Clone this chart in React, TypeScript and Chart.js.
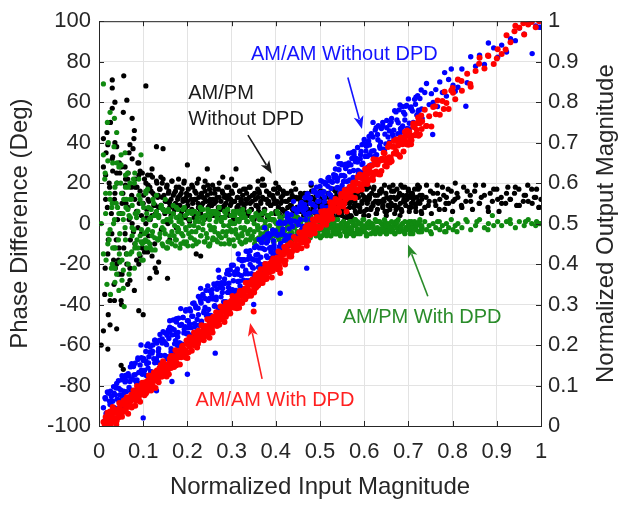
import React, { useEffect, useRef } from "react";
import { Chart, registerables } from "chart.js";

Chart.register(...registerables);

// ---------- Tick values and labels ----------
const xTicks = [0, 0.1, 0.2, 0.3, 0.4, 0.5, 0.6, 0.7, 0.8, 0.9, 1];
const xTickLabels = ["0", "0.1", "0.2", "0.3", "0.4", "0.5", "0.6", "0.7", "0.8", "0.9", "1"];
const phaseTicks = [-100, -80, -60, -40, -20, 0, 20, 40, 60, 80, 100];
const phaseTickLabels = ["-100", "-80", "-60", "-40", "-20", "0", "20", "40", "60", "80", "100"];
const magTicks = [0, 0.1, 0.2, 0.3, 0.4, 0.5, 0.6, 0.7, 0.8, 0.9, 1];
const magTickLabels = ["0", "0.1", "0.2", "0.3", "0.4", "0.5", "0.6", "0.7", "0.8", "0.9", "1"];

// ---------- Sample set 1: input magnitudes (x) ----------
const inputMag = [
  0.010, 0.013, 0.015, 0.018, 0.021, 0.023, 0.025, 0.028, 0.031, 0.033,
  0.036, 0.037, 0.040, 0.042, 0.045, 0.047, 0.051, 0.052, 0.055, 0.059,
  0.060, 0.062, 0.066, 0.068, 0.070, 0.074, 0.075, 0.079, 0.081, 0.082,
  0.085, 0.088, 0.090, 0.093, 0.096, 0.098, 0.100, 0.103, 0.106, 0.108,
  0.111, 0.112, 0.115, 0.117, 0.120, 0.122, 0.126, 0.127, 0.130, 0.134,
  0.135, 0.137, 0.141, 0.143, 0.145, 0.149, 0.150, 0.154, 0.156, 0.157,
  0.160, 0.163, 0.165, 0.168, 0.171, 0.173, 0.175, 0.178, 0.181, 0.183,
  0.186, 0.187, 0.190, 0.192, 0.195, 0.197, 0.201, 0.202, 0.205, 0.209,
  0.210, 0.212, 0.216, 0.218, 0.220, 0.224, 0.225, 0.229, 0.231, 0.232,
  0.235, 0.238, 0.240, 0.243, 0.246, 0.248, 0.250, 0.253, 0.256, 0.258,
  0.261, 0.262, 0.265, 0.267, 0.270, 0.272, 0.276, 0.277, 0.280, 0.284,
  0.285, 0.287, 0.291, 0.293, 0.295, 0.299, 0.300, 0.304, 0.306, 0.307,
  0.310, 0.313, 0.315, 0.318, 0.321, 0.323, 0.325, 0.328, 0.331, 0.333,
  0.336, 0.337, 0.340, 0.342, 0.345, 0.347, 0.351, 0.352, 0.355, 0.359,
  0.360, 0.362, 0.366, 0.368, 0.370, 0.374, 0.375, 0.379, 0.381, 0.382,
  0.385, 0.388, 0.390, 0.393, 0.396, 0.398, 0.400, 0.403, 0.406, 0.408,
  0.411, 0.412, 0.415, 0.417, 0.420, 0.422, 0.426, 0.427, 0.430, 0.434,
  0.435, 0.437, 0.441, 0.443, 0.445, 0.449, 0.450, 0.454, 0.456, 0.457,
  0.460, 0.463, 0.465, 0.468, 0.471, 0.473, 0.475, 0.478, 0.481, 0.483,
  0.486, 0.487, 0.490, 0.492, 0.495, 0.497, 0.501, 0.502, 0.505, 0.509,
  0.510, 0.512, 0.516, 0.518, 0.520, 0.524, 0.525, 0.529, 0.531, 0.532,
  0.535, 0.538, 0.540, 0.543, 0.546, 0.548, 0.550, 0.553, 0.556, 0.558,
  0.561, 0.562, 0.565, 0.567, 0.570, 0.572, 0.576, 0.577, 0.580, 0.584,
  0.585, 0.587, 0.591, 0.593, 0.595, 0.599, 0.600, 0.604, 0.606, 0.607,
  0.612, 0.616, 0.621, 0.627, 0.631, 0.636, 0.642, 0.646, 0.651, 0.657,
  0.661, 0.667, 0.672, 0.676, 0.681, 0.687, 0.692, 0.696, 0.702, 0.706,
  0.711, 0.717, 0.722, 0.726, 0.731, 0.737, 0.741, 0.747, 0.752, 0.756,
  0.762, 0.766, 0.771, 0.777, 0.782, 0.786, 0.791, 0.797, 0.801, 0.806,
  0.812, 0.821, 0.833, 0.841, 0.852, 0.861, 0.872, 0.881, 0.893, 0.902,
  0.911, 0.922, 0.931, 0.942, 0.951, 0.962, 0.971, 0.979, 0.988, 0.996,
];

const amamWithDpd = [
  0.010, 0.003, 0.022, 0.012, 0.024, 0.010, 0.036, 0.024, 0.015, 0.035,
  0.020, 0.033, 0.013, 0.034, 0.033, 0.046, 0.031, 0.056, 0.038, 0.036,
  0.056, 0.049, 0.067, 0.048, 0.061, 0.046, 0.069, 0.077, 0.064, 0.084,
  0.063, 0.079, 0.086, 0.078, 0.101, 0.080, 0.089, 0.103, 0.080, 0.102,
  0.113, 0.093, 0.108, 0.116, 0.108, 0.099, 0.124, 0.112, 0.134, 0.125,
  0.120, 0.143, 0.122, 0.138, 0.146, 0.139, 0.127, 0.152, 0.149, 0.140,
  0.157, 0.143, 0.166, 0.173, 0.159, 0.171, 0.150, 0.171, 0.184, 0.172,
  0.170, 0.183, 0.199, 0.179, 0.188, 0.179, 0.202, 0.207, 0.196, 0.211,
  0.218, 0.202, 0.202, 0.214, 0.225, 0.203, 0.224, 0.222, 0.232, 0.214,
  0.231, 0.243, 0.222, 0.246, 0.235, 0.247, 0.258, 0.239, 0.251, 0.269,
  0.250, 0.264, 0.263, 0.247, 0.278, 0.265, 0.281, 0.263, 0.291, 0.283,
  0.292, 0.270, 0.295, 0.291, 0.284, 0.309, 0.295, 0.306, 0.292, 0.312,
  0.304, 0.322, 0.307, 0.330, 0.322, 0.309, 0.323, 0.335, 0.313, 0.337,
  0.342, 0.334, 0.351, 0.332, 0.349, 0.362, 0.345, 0.338, 0.358, 0.368,
  0.347, 0.370, 0.366, 0.374, 0.360, 0.376, 0.389, 0.372, 0.392, 0.381,
  0.395, 0.384, 0.406, 0.383, 0.398, 0.406, 0.393, 0.416, 0.404, 0.395,
  0.411, 0.427, 0.410, 0.423, 0.432, 0.409, 0.434, 0.429, 0.423, 0.452,
  0.449, 0.432, 0.447, 0.445, 0.462, 0.446, 0.441, 0.465, 0.464, 0.456,
  0.454, 0.471, 0.481, 0.458, 0.482, 0.479, 0.474, 0.497, 0.477, 0.488,
  0.497, 0.481, 0.492, 0.507, 0.493, 0.515, 0.507, 0.491, 0.519, 0.512,
  0.529, 0.517, 0.530, 0.512, 0.530, 0.521, 0.542, 0.538, 0.531, 0.553,
  0.537, 0.555, 0.532, 0.557, 0.553, 0.567, 0.553, 0.550, 0.579, 0.567,
  0.577, 0.563, 0.578, 0.586, 0.565, 0.581, 0.593, 0.583, 0.602, 0.583,
  0.582, 0.599, 0.614, 0.597, 0.612, 0.598, 0.611, 0.626, 0.608, 0.622,
  0.642, 0.611, 0.659, 0.629, 0.653, 0.621, 0.657, 0.674, 0.641, 0.697,
  0.655, 0.704, 0.679, 0.702, 0.665, 0.708, 0.726, 0.696, 0.717, 0.696,
  0.740, 0.721, 0.762, 0.720, 0.753, 0.781, 0.741, 0.765, 0.740, 0.788,
  0.770, 0.804, 0.769, 0.803, 0.826, 0.798, 0.783, 0.829, 0.823, 0.807,
  0.856, 0.828, 0.870, 0.838, 0.877, 0.910, 0.883, 0.914, 0.894, 0.931,
  0.919, 0.965, 0.948, 0.989, 0.984, 0.967, 0.992, 0.998, 0.985, 1.000,
];

const amamWithoutDpd = [
  0.045, 0.013, 0.067, 0.033, 0.081, 0.013, 0.053, 0.073, 0.039, 0.097,
  0.041, 0.077, 0.105, 0.032, 0.093, 0.077, 0.066, 0.124, 0.077, 0.117,
  0.125, 0.085, 0.066, 0.123, 0.110, 0.154, 0.088, 0.126, 0.113, 0.155,
  0.107, 0.168, 0.132, 0.105, 0.169, 0.128, 0.162, 0.101, 0.161, 0.154,
  0.203, 0.156, 0.183, 0.134, 0.180, 0.200, 0.156, 0.212, 0.166, 0.184,
  0.175, 0.212, 0.151, 0.205, 0.233, 0.174, 0.205, 0.224, 0.171, 0.237,
  0.232, 0.183, 0.225, 0.262, 0.203, 0.226, 0.257, 0.220, 0.205, 0.249,
  0.198, 0.251, 0.268, 0.230, 0.245, 0.287, 0.229, 0.260, 0.289, 0.243,
  0.271, 0.303, 0.253, 0.297, 0.233, 0.291, 0.275, 0.314, 0.304, 0.259,
  0.325, 0.285, 0.315, 0.273, 0.346, 0.288, 0.315, 0.273, 0.337, 0.315,
  0.296, 0.347, 0.318, 0.338, 0.293, 0.367, 0.319, 0.354, 0.340, 0.299,
  0.352, 0.307, 0.384, 0.342, 0.374, 0.336, 0.397, 0.359, 0.333, 0.380,
  0.335, 0.388, 0.375, 0.358, 0.411, 0.340, 0.395, 0.411, 0.376, 0.432,
  0.431, 0.376, 0.421, 0.399, 0.376, 0.412, 0.366, 0.441, 0.422, 0.410,
  0.407, 0.461, 0.399, 0.453, 0.439, 0.399, 0.436, 0.420, 0.474, 0.457,
  0.468, 0.441, 0.415, 0.484, 0.439, 0.475, 0.429, 0.474, 0.501, 0.443,
  0.451, 0.501, 0.480, 0.434, 0.501, 0.471, 0.525, 0.462, 0.487, 0.503,
  0.508, 0.468, 0.536, 0.506, 0.464, 0.534, 0.503, 0.479, 0.535, 0.548,
  0.486, 0.529, 0.547, 0.510, 0.573, 0.523, 0.563, 0.550, 0.501, 0.547,
  0.578, 0.529, 0.542, 0.590, 0.555, 0.529, 0.577, 0.606, 0.543, 0.579,
  0.566, 0.598, 0.540, 0.592, 0.614, 0.570, 0.587, 0.563, 0.621, 0.614,
  0.619, 0.558, 0.612, 0.633, 0.586, 0.648, 0.594, 0.619, 0.584, 0.636,
  0.604, 0.643, 0.674, 0.628, 0.605, 0.661, 0.631, 0.678, 0.653, 0.613,
  0.688, 0.624, 0.660, 0.678, 0.646, 0.698, 0.627, 0.679, 0.697, 0.666,
  0.670, 0.722, 0.665, 0.737, 0.707, 0.686, 0.742, 0.682, 0.737, 0.729,
  0.751, 0.731, 0.776, 0.722, 0.793, 0.741, 0.770, 0.792, 0.734, 0.788,
  0.748, 0.812, 0.777, 0.809, 0.760, 0.824, 0.846, 0.794, 0.821, 0.799,
  0.831, 0.789, 0.850, 0.824, 0.873, 0.815, 0.856, 0.882, 0.842, 0.827,
  0.837, 0.882, 0.848, 0.912, 0.889, 0.916, 0.893, 0.946, 0.934, 0.911,
  0.941, 0.924, 0.957, 0.952, 0.983, 0.968, 0.995, 0.999, 0.988, 0.985,
];

const ampmWithDpd = [
  -15, 22, 5, -30, 40, -8, 12, -22, 30, 0,
  18, -12, -25, 8, 28, -5, 15, -18, 2, 35,
  -8, 12, -20, 4, 20, -14, 9, -3, 25, -10,
  5, -12, 14, -6, -18, 10, 2, -9, 16, -4,
  -3, 8, -10, 3, -6, 12, -1, -13, 6, -8,
  4, -7, 9, -2, -11, 6, -5, 2, -9, 7,
  -6, 3, -10, 5, -1, -8, 8, -4, 1, -12,
  2, -5, 7, -9, 4, -3, -11, 6, -1, -7,
  -4, 6, -8, 1, -10, 5, -2, 8, -6, 3,
  0, -9, 4, -5, 7, -11, 2, -3, 6, -7,
  -2, 5, -8, 3, -5, 8, -10, 1, -4, 6,
  3, -6, 7, -1, -9, 4, -4, 6, -11, 0,
  -5, 2, -7, 5, -2, -10, 7, -3, 3, -8,
  1, -4, 6, -8, 3, -6, 0, -10, 5, -2,
  -3, 4, -9, 2, -6, 6, -1, -8, 4, -5,
  2, -7, 5, -3, -9, 1, -5, 6, -2, -8,
  -4, 3, -6, 0, -8, 4, -2, -9, 2, -5,
  1, -5, 4, -7, -1, 3, -8, 0, -4, 2,
  -6, 2, -3, -8, 1, -4, 3, -7, -1, -5,
  0, -4, 2, -6, -2, 3, -7, 1, -3, -5,
  -3, 1, -5, -1, 2, -6, 0, -4, -2, 1,
  -1, -5, 2, -3, -6, 0, -2, 1, -4, -1,
  -4, 0, -2, -5, 1, -3, -6, -1, 2, -3,
  1, -3, -5, 0, -2, 2, -4, -1, -6, 0,
  -2, 0, -4, 1, -3, -5, -1, 2, -3, -1,
  -4, -1, 1, -3, -2, 0, -5, -2, 1, -3,
  -1, -3, 0, -4, -2, 1, -3, -1, -5, 0,
  -2, 1, -3, -1, -4, 0, -2, 2, -3, -1,
  0, -2, 1, -3, -1, 2, -2, 0, -1, 1,
  -1, 1, 0, -2, 1, -1, 2, 0, -1, 0,
];

const ampmWithoutDpd = [
  28, -35, 12, 45, -8, 20, -50, 5, 33, -18,
  15, -22, 38, 2, -12, 25, -40, 10, 55, -5,
  22, -15, 8, 35, -28, 14, 0, 42, -10, 18,
  6, 30, -20, 16, -5, 25, 10, -14, 20, 3,
  12, -6, 18, 24, 4, 15, -10, 9, 21, 14,
  8, 17, -3, 13, 22, 5, 11, 19, 0, 15,
  10, 4, 21, 14, 7, 16, -2, 12, 18, 9,
  15, 6, 11, 20, 3, 13, 9, 17, 1, 12,
  7, 18, 12, 4, 15, 10, 22, 6, 14, 9,
  13, 2, 16, 11, 19, 6, 9, 15, 4, 12,
  10, 17, 5, 13, 8, 20, 11, 3, 15, 9,
  14, 7, 12, 18, 4, 10, 16, 2, 11, 19,
  6, 13, 9, 16, 11, 3, 14, 8, 17, 10,
  12, 5, 18, 10, 7, 14, 2, 15, 9, 13,
  8, 16, 11, 4, 13, 19, 7, 12, 3, 10,
  15, 9, 2, 14, 10, 17, 6, 11, 18, 5,
  10, 13, 7, 16, 4, 11, 15, 8, 1, 12,
  9, 14, 5, 12, 17, 8, 3, 13, 10, 6,
  11, 4, 15, 9, 7, 13, 2, 10, 16, 6,
  8, 12, 5, 14, 3, 10, 16, 7, 11, 4,
  13, 6, 10, 2, 15, 9, 12, 5, 17, 8,
  7, 14, 4, 11, 9, 16, 6, 13, 3, 10,
  12, 5, 15, 8, 11, 3, 14, 9, 6, 17,
  9, 13, 6, 16, 10, 4, 12, 18, 7, 11,
  14, 8, 17, 5, 11, 15, 9, 19, 6, 12,
  10, 16, 7, 13, 4, 18, 11, 14, 8, 15,
  12, 6, 17, 10, 14, 8, 19, 11, 5, 15,
  9, 15, 12, 18, 7, 13, 10, 16, 11, 20,
  13, 8, 16, 11, 19, 10, 14, 6, 17, 12,
  10, 15, 12, 18, 9, 14, 11, 17, 13, 8,
];

// ---------- Sample set 2: input magnitudes (x) ----------
const inputMag2 = [
  0.014, 0.016, 0.019, 0.021, 0.024, 0.026, 0.029, 0.031, 0.034, 0.035,
  0.036, 0.039, 0.041, 0.044, 0.046, 0.049, 0.052, 0.054, 0.056, 0.059,
  0.061, 0.063, 0.066, 0.068, 0.071, 0.073, 0.075, 0.078, 0.081, 0.082,
  0.086, 0.088, 0.091, 0.093, 0.096, 0.098, 0.101, 0.103, 0.106, 0.107,
  0.108, 0.111, 0.113, 0.116, 0.118, 0.121, 0.124, 0.126, 0.128, 0.131,
  0.133, 0.135, 0.138, 0.140, 0.143, 0.145, 0.147, 0.150, 0.153, 0.154,
  0.158, 0.160, 0.163, 0.165, 0.168, 0.170, 0.173, 0.175, 0.178, 0.179,
  0.180, 0.183, 0.185, 0.188, 0.190, 0.193, 0.196, 0.198, 0.200, 0.203,
  0.205, 0.207, 0.210, 0.212, 0.215, 0.217, 0.219, 0.222, 0.225, 0.226,
  0.230, 0.232, 0.235, 0.237, 0.240, 0.242, 0.245, 0.247, 0.250, 0.251,
  0.252, 0.255, 0.257, 0.260, 0.262, 0.265, 0.268, 0.270, 0.272, 0.275,
  0.277, 0.279, 0.282, 0.284, 0.287, 0.289, 0.291, 0.294, 0.297, 0.298,
  0.302, 0.304, 0.307, 0.309, 0.312, 0.314, 0.317, 0.319, 0.322, 0.323,
  0.324, 0.327, 0.329, 0.332, 0.334, 0.337, 0.340, 0.342, 0.344, 0.347,
  0.349, 0.351, 0.354, 0.356, 0.359, 0.361, 0.363, 0.366, 0.369, 0.370,
  0.374, 0.376, 0.379, 0.381, 0.384, 0.386, 0.389, 0.391, 0.394, 0.395,
  0.396, 0.399, 0.401, 0.404, 0.406, 0.409, 0.412, 0.414, 0.416, 0.419,
  0.421, 0.423, 0.426, 0.428, 0.431, 0.433, 0.435, 0.438, 0.441, 0.442,
  0.446, 0.448, 0.451, 0.453, 0.456, 0.458, 0.461, 0.463, 0.466, 0.467,
  0.468, 0.471, 0.473, 0.476, 0.478, 0.481, 0.484, 0.486, 0.488, 0.491,
  0.493, 0.495, 0.498, 0.500, 0.503, 0.505, 0.507, 0.510, 0.513, 0.514,
  0.518, 0.520, 0.523, 0.525, 0.528, 0.530, 0.533, 0.535, 0.538, 0.539,
  0.540, 0.543, 0.545, 0.548, 0.550, 0.553, 0.556, 0.558, 0.560, 0.563,
  0.565, 0.567, 0.570, 0.572, 0.575, 0.577, 0.579, 0.582, 0.585, 0.586,
  0.590, 0.592, 0.595, 0.597, 0.600, 0.602, 0.605, 0.607, 0.610, 0.611,
  0.612, 0.615, 0.617, 0.620, 0.622, 0.625, 0.628, 0.630, 0.632, 0.635,
  0.637, 0.639, 0.642, 0.644, 0.647, 0.649, 0.651, 0.654, 0.657, 0.658,
  0.662, 0.664, 0.667, 0.669, 0.672, 0.674, 0.677, 0.679, 0.682, 0.683,
  0.684, 0.687, 0.689, 0.692, 0.694, 0.697, 0.700, 0.702, 0.704, 0.707,
  0.709, 0.711, 0.714, 0.716, 0.719, 0.721, 0.723, 0.726, 0.729, 0.730,
];

const amamWithDpd2 = [
  0.004, 0.016, 0.033, 0.008, 0.030, 0.003, 0.024, 0.047, 0.014, 0.037,
  0.041, 0.004, 0.034, 0.021, 0.057, 0.033, 0.023, 0.053, 0.063, 0.038,
  0.043, 0.071, 0.030, 0.066, 0.061, 0.077, 0.049, 0.088, 0.067, 0.050,
  0.099, 0.067, 0.092, 0.060, 0.091, 0.107, 0.086, 0.076, 0.109, 0.098,
  0.084, 0.105, 0.125, 0.098, 0.088, 0.121, 0.132, 0.114, 0.094, 0.137,
  0.136, 0.108, 0.129, 0.151, 0.122, 0.160, 0.132, 0.149, 0.122, 0.149,
  0.128, 0.166, 0.173, 0.153, 0.168, 0.146, 0.187, 0.157, 0.176, 0.169,
  0.179, 0.152, 0.188, 0.197, 0.175, 0.188, 0.169, 0.211, 0.205, 0.182,
  0.219, 0.199, 0.186, 0.214, 0.231, 0.199, 0.217, 0.194, 0.235, 0.214,
  0.215, 0.249, 0.236, 0.212, 0.247, 0.233, 0.264, 0.228, 0.245, 0.264,
  0.264, 0.239, 0.231, 0.270, 0.256, 0.281, 0.256, 0.272, 0.250, 0.295,
  0.270, 0.294, 0.287, 0.257, 0.304, 0.276, 0.290, 0.305, 0.278, 0.293,
  0.321, 0.295, 0.318, 0.308, 0.291, 0.319, 0.292, 0.334, 0.329, 0.308,
  0.304, 0.335, 0.323, 0.354, 0.338, 0.321, 0.354, 0.332, 0.322, 0.357,
  0.356, 0.330, 0.373, 0.343, 0.356, 0.378, 0.352, 0.387, 0.372, 0.353,
  0.362, 0.400, 0.363, 0.387, 0.400, 0.380, 0.399, 0.367, 0.414, 0.395,
  0.411, 0.396, 0.404, 0.387, 0.431, 0.390, 0.421, 0.427, 0.407, 0.442,
  0.399, 0.437, 0.446, 0.428, 0.419, 0.451, 0.419, 0.444, 0.467, 0.436,
  0.459, 0.435, 0.446, 0.478, 0.459, 0.439, 0.478, 0.454, 0.475, 0.490,
  0.470, 0.495, 0.457, 0.490, 0.472, 0.491, 0.510, 0.486, 0.476, 0.509,
  0.516, 0.492, 0.515, 0.489, 0.530, 0.508, 0.500, 0.531, 0.520, 0.497,
  0.508, 0.532, 0.553, 0.525, 0.512, 0.548, 0.539, 0.561, 0.536, 0.555,
  0.551, 0.528, 0.542, 0.573, 0.567, 0.542, 0.583, 0.559, 0.581, 0.566,
  0.565, 0.591, 0.580, 0.566, 0.601, 0.589, 0.563, 0.600, 0.615, 0.582,
  0.621, 0.591, 0.584, 0.618, 0.603, 0.635, 0.612, 0.598, 0.627, 0.636,
  0.608, 0.627, 0.643, 0.608, 0.646, 0.627, 0.658, 0.646, 0.622, 0.655,
  0.658, 0.630, 0.659, 0.675, 0.642, 0.660, 0.652, 0.689, 0.664, 0.651,
  0.654, 0.690, 0.673, 0.689, 0.708, 0.672, 0.693, 0.669, 0.712, 0.697,
  0.713, 0.696, 0.678, 0.707, 0.717, 0.730, 0.695, 0.727, 0.709, 0.706,
  0.717, 0.747, 0.738, 0.718, 0.731, 0.749, 0.717, 0.748, 0.767, 0.734,
];

const amamWithoutDpd2 = [
  0.069, 0.031, 0.084, 0.021, 0.061, 0.086, 0.016, 0.061, 0.081, 0.045,
  0.036, 0.094, 0.066, 0.112, 0.058, 0.089, 0.114, 0.049, 0.086, 0.109,
  0.111, 0.060, 0.129, 0.095, 0.146, 0.088, 0.116, 0.147, 0.088, 0.127,
  0.114, 0.164, 0.099, 0.151, 0.138, 0.098, 0.167, 0.137, 0.184, 0.125,
  0.198, 0.143, 0.171, 0.196, 0.134, 0.185, 0.166, 0.212, 0.164, 0.205,
  0.157, 0.191, 0.226, 0.174, 0.215, 0.159, 0.209, 0.230, 0.201, 0.166,
  0.216, 0.244, 0.191, 0.241, 0.178, 0.238, 0.211, 0.265, 0.198, 0.231,
  0.266, 0.205, 0.249, 0.202, 0.268, 0.239, 0.284, 0.228, 0.260, 0.243,
  0.252, 0.284, 0.225, 0.271, 0.304, 0.246, 0.292, 0.263, 0.320, 0.249,
  0.309, 0.253, 0.322, 0.280, 0.293, 0.335, 0.276, 0.310, 0.269, 0.334,
  0.271, 0.326, 0.314, 0.351, 0.297, 0.312, 0.353, 0.287, 0.349, 0.342,
  0.350, 0.330, 0.307, 0.363, 0.304, 0.376, 0.330, 0.353, 0.386, 0.329,
  0.337, 0.397, 0.374, 0.330, 0.383, 0.357, 0.412, 0.346, 0.371, 0.408,
  0.411, 0.360, 0.410, 0.385, 0.359, 0.412, 0.359, 0.433, 0.413, 0.392,
  0.390, 0.410, 0.373, 0.445, 0.424, 0.392, 0.440, 0.417, 0.386, 0.463,
  0.467, 0.401, 0.452, 0.416, 0.475, 0.439, 0.430, 0.474, 0.425, 0.458,
  0.447, 0.482, 0.430, 0.471, 0.425, 0.504, 0.473, 0.437, 0.487, 0.458,
  0.502, 0.466, 0.515, 0.445, 0.506, 0.470, 0.522, 0.493, 0.466, 0.537,
  0.468, 0.528, 0.497, 0.541, 0.510, 0.552, 0.493, 0.541, 0.564, 0.523,
  0.538, 0.495, 0.573, 0.526, 0.562, 0.511, 0.548, 0.582, 0.530, 0.577,
  0.529, 0.569, 0.556, 0.592, 0.531, 0.573, 0.603, 0.554, 0.601, 0.538,
  0.612, 0.574, 0.605, 0.557, 0.602, 0.552, 0.613, 0.635, 0.588, 0.605,
  0.589, 0.648, 0.576, 0.619, 0.645, 0.604, 0.617, 0.647, 0.585, 0.646,
  0.650, 0.608, 0.645, 0.675, 0.614, 0.670, 0.610, 0.661, 0.652, 0.631,
  0.628, 0.670, 0.695, 0.649, 0.708, 0.666, 0.691, 0.639, 0.704, 0.715,
  0.694, 0.645, 0.679, 0.714, 0.680, 0.731, 0.670, 0.720, 0.742, 0.691,
  0.701, 0.735, 0.750, 0.684, 0.721, 0.697, 0.755, 0.714, 0.701, 0.744,
  0.760, 0.720, 0.713, 0.779, 0.708, 0.756, 0.749, 0.781, 0.734, 0.725,
  0.736, 0.789, 0.775, 0.756, 0.790, 0.735, 0.808, 0.748, 0.786, 0.783,
  0.778, 0.750, 0.807, 0.795, 0.768, 0.816, 0.780, 0.755, 0.830, 0.783,
];

const ampmWithDpd2 = [
  25, -18, 50, -5, 15, -35, 8, -12, 38, 2,
  -22, 10, 30, -8, -15, 20, -28, 5, 12, -2,
  8, -15, 18, -25, 3, 12, -6, 22, -12, 5,
  -8, 6, -15, 12, -3, -10, 8, -5, 15, -12,
  5, -9, 2, -12, 7, -4, 10, -7, -1, 4,
  -8, 3, -5, 8, -10, 1, -3, 6, -12, 2,
  6, -9, 1, -4, 9, -6, -11, 3, -2, 7,
  -3, 4, -10, 0, -6, 8, -2, -9, 5, -5,
  2, -7, 5, -11, -1, 6, -4, 3, -9, 1,
  -6, 7, -3, 2, -9, 4, -7, 6, -1, -10,
  4, -2, -8, 6, -4, 1, -9, 5, -6, 2,
  -7, 3, -1, -10, 5, -4, 7, -8, 1, -3,
  0, -8, 4, -3, 6, -6, 1, -9, 3, -5,
  -6, 5, -2, -9, 1, -5, 6, -3, -7, 2,
  3, -4, -8, 4, -1, -7, 2, -5, 5, -2,
  -5, 1, -3, -8, 4, -1, -6, 2, -4, -9,
  2, -6, 0, -3, -7, 3, -2, -5, 1, -4,
  -3, -7, 2, -1, -5, 1, -4, -8, 3, -2,
  -1, -4, 1, -6, 0, -3, 2, -5, -2, -7,
  -5, 0, -3, 2, -6, -1, -4, 1, -2, -6,
  -2, -5, 1, -3, -1, -6, 0, 2, -4, -2,
  -4, 0, -2, -6, 1, -3, -1, -5, 2, -3,
  -1, -3, -5, 0, -2, 1, -4, -3, -6, 0,
  -3, 1, -2, -4, 0, -5, 2, -1, -3, -5,
  0, -4, -1, 2, -3, -2, -5, 0, -2, 1,
  -2, -5, 0, -1, -3, 2, -4, -2, 1, -3,
  -3, 0, -2, -4, 1, -1, -5, 0, -3, -2,
  1, -3, -1, -5, 0, -2, 2, -4, -1, -3,
  -2, 0, -4, 1, -2, -3, 0, -1, -5, 1,
  0, -2, 1, -3, -1, 0, -4, 2, -2, -1,
];

const ampmWithoutDpd2 = [
  -22, 35, 8, -45, 18, 50, -5, 26, -30, 12,
  40, -8, 20, -18, 30, 5, -25, 15, -12, 28,
  10, -20, 25, 2, -8, 18, 32, -4, 12, 22,
  18, -2, 10, 26, 4, -12, 14, 22, 0, 16,
  7, 19, 11, 2, 16, 23, 9, 14, 5, 20,
  13, 4, 17, 9, 20, 7, 14, 1, 18, 11,
  16, 8, 12, 21, 5, 15, 10, 18, 3, 13,
  9, 14, 4, 17, 12, 21, 7, 15, 11, 2,
  14, 6, 19, 10, 3, 16, 12, 20, 8, 13,
  5, 15, 10, 18, 12, 3, 14, 8, 17, 11,
  12, 9, 19, 4, 15, 11, 6, 17, 13, 7,
  8, 16, 3, 13, 10, 18, 6, 14, 9, 12,
  15, 5, 11, 19, 8, 13, 2, 16, 12, 7,
  10, 17, 6, 12, 15, 4, 13, 18, 7, 11,
  14, 3, 12, 9, 17, 6, 15, 10, 19, 5,
  7, 12, 16, 4, 11, 14, 9, 2, 13, 17,
  12, 5, 10, 15, 8, 17, 3, 11, 14, 6,
  6, 15, 11, 3, 12, 9, 16, 7, 13, 4,
  13, 8, 2, 12, 15, 6, 10, 14, 5, 11,
  9, 15, 7, 11, 4, 13, 8, 16, 2, 10,
  11, 4, 14, 8, 12, 16, 5, 10, 13, 7,
  15, 9, 12, 5, 13, 3, 11, 16, 8, 14,
  6, 13, 9, 17, 4, 12, 15, 7, 11, 3,
  14, 10, 4, 12, 16, 8, 11, 5, 15, 9,
  8, 16, 11, 14, 6, 13, 17, 10, 4, 12,
  13, 7, 15, 9, 18, 11, 5, 14, 10, 16,
  11, 17, 8, 12, 6, 15, 13, 9, 18, 7,
  16, 9, 13, 5, 12, 17, 8, 14, 10, 19,
  7, 14, 11, 18, 9, 12, 16, 6, 13, 10,
  15, 10, 17, 8, 13, 19, 11, 14, 6, 12,
];

// ---------- Additional individually read samples [x, value] ----------
const amamWithDpdMore: [number, number][] = [
  [0.015, 0.008], [0.03, 0.01], [0.045, 0.041], [0.06, 0.038], [0.075, 0.072], [0.09, 0.07], [0.105, 0.104], [0.12, 0.098],
  [0.135, 0.134], [0.15, 0.15], [0.165, 0.148], [0.18, 0.184], [0.195, 0.179], [0.21, 0.214], [0.225, 0.21], [0.24, 0.243],
  [0.255, 0.241], [0.27, 0.277], [0.285, 0.27], [0.3, 0.309], [0.315, 0.301], [0.33, 0.339], [0.345, 0.333], [0.36, 0.37],
  [0.375, 0.366], [0.39, 0.399], [0.405, 0.395], [0.42, 0.431], [0.435, 0.426], [0.45, 0.462], [0.465, 0.458], [0.48, 0.494],
  [0.495, 0.49], [0.51, 0.524], [0.525, 0.522], [0.54, 0.555], [0.555, 0.55], [0.57, 0.586], [0.585, 0.583], [0.6, 0.62],
  [0.62, 0.618], [0.64, 0.66], [0.66, 0.662], [0.68, 0.705], [0.7, 0.7], [0.72, 0.748], [0.74, 0.741], [0.76, 0.79],
  [0.78, 0.783], [0.8, 0.835], [0.82, 0.852], [0.84, 0.845], [0.86, 0.895], [0.88, 0.915], [0.9, 0.908], [0.92, 0.93],
  [0.94, 0.975], [0.96, 0.995], [0.35, 0.283], [0.25, 0.218], [0.41, 0.378], [0.47, 0.445], [0.2, 0.168], [0.56, 0.53],
];

const amamWithoutDpdMore: [number, number][] = [
  [0.1, 0.02], [0.13, 0.087], [0.35, 0.3], [0.263, 0.18], [0.2, 0.128], [0.165, 0.11], [0.41, 0.328], [0.47, 0.39],
  [0.014, 0.07], [0.095, 0.2], [0.755, 0.72], [0.83, 0.79], [0.98, 0.92], [1.0, 0.985], [0.315, 0.425], [0.375, 0.49],
  [0.44, 0.555], [0.54, 0.665], [0.62, 0.75], [0.27, 0.385], [0.23, 0.34], [0.185, 0.29], [0.16, 0.26], [0.48, 0.6],
];

const ampmWithDpdMore: [number, number][] = [
  [0.01, 69], [0.025, 55], [0.035, 52], [0.04, 45], [0.01, 34], [0.02, 31], [0.05, 34], [0.095, 34], [0.05, 29], [0.065, 25],
  [0.06, 24], [0.08, 20], [0.036, -29], [0.055, -32], [0.057, -41], [0.045, -33], [0.055, -23], [0.047, -19], [0.03, -20],
  [0.08, -22], [0.07, -15], [0.1, -18], [0.12, -13], [0.02, -10], [0.015, 15], [0.04, 20], [0.06, 18], [0.09, 22], [0.11, 17],
  [0.13, 14], [0.15, 12], [0.03, 10], [0.07, 12], [0.025, -3], [0.045, 5], [0.085, 3], [0.095, -9], [0.075, -2],
  [0.005, 0], [0.035, -12], [0.065, 7],
  [0.105, -8], [0.125, 4], [0.145, 7], [0.155, -12], [0.175, -8], [0.195, -10], [0.21, 6], [0.235, 7], [0.25, -11], [0.265, 6],
  [0.295, -10], [0.315, 6], [0.33, -9], [0.355, -8], [0.38, -9], [0.405, 5], [0.42, -8], [0.455, -7], [0.48, 3], [0.495, -5],
  [0.515, -6], [0.535, -5], [0.56, -6], [0.58, -5], [0.605, -6], [0.625, -5], [0.65, -5], [0.67, -5], [0.69, -4], [0.71, -5],
  [0.73, -4], [0.75, -4], [0.785, -4], [0.81, -4], [0.83, 2], [0.855, 1], [0.88, -3], [0.89, 4], [0.93, 2], [0.965, 1],
  [0.635, 1], [0.675, 1], [0.725, 1], [0.77, 1], [0.99, 1], [1.0, 0],
];

const ampmWithoutDpdMore: [number, number][] = [
  [0.03, 71], [0.056, 73], [0.106, 68], [0.03, 67], [0.036, 60], [0.063, 61], [0.03, 57], [0.075, 52], [0.08, 46], [0.01, 42],
  [0.02, 39], [0.07, 39], [0.077, 37], [0.13, 38], [0.145, 37], [0.03, 32], [0.05, 28], [0.09, 30], [0.12, 27], [0.2, 29],
  [0.245, 27], [0.31, 27], [0.28, 23], [0.37, 22], [0.015, 24],
  [0.04, 25], [0.065, 22], [0.09, 24], [0.06, 19], [0.04, -20], [0.07, -22], [0.085, -18], [0.11, 24], [0.14, 23], [0.18, 22],
  [0.24, 21], [0.3, 22], [0.36, 21], [0.4, 20], [0.44, 20], [0.48, 19],
  [0.02, -15], [0.025, -38], [0.01, -53], [0.02, -62], [0.05, -70], [0.055, -72], [0.035, -38], [0.05, -38], [0.09, -43],
  [0.1, -45], [0.08, -33], [0.115, -27], [0.155, -27], [0.13, -24], [0.11, -14], [0.12, -16], [0.135, -19], [0.127, -22],
  [0.22, -15], [0.23, -16], [0.093, -16], [0.005, -60], [0.04, -52], [0.065, -30], [0.045, -25], [0.16, -8], [0.1, -9],
  [0.61, 18], [0.62, 10], [0.625, 14], [0.63, 7], [0.64, 16], [0.645, 11], [0.65, 4], [0.66, 13], [0.665, 19], [0.67, 9],
  [0.68, 15], [0.685, 6], [0.69, 12], [0.7, 17], [0.705, 8], [0.71, 14], [0.72, 10], [0.725, 18], [0.73, 5], [0.74, 13],
  [0.745, 9], [0.75, 16], [0.76, 11], [0.765, 19], [0.77, 7], [0.78, 14], [0.785, 10], [0.79, 17], [0.8, 6], [0.805, 12],
  [0.81, 15], [0.82, 9], [0.825, 18], [0.83, 11], [0.84, 14], [0.845, 7], [0.85, 16], [0.86, 10], [0.865, 13], [0.87, 19],
  [0.88, 8], [0.885, 15], [0.89, 11], [0.9, 17], [0.905, 6], [0.91, 13], [0.92, 10], [0.925, 18], [0.93, 12], [0.94, 15],
  [0.945, 9], [0.95, 17], [0.96, 11], [0.965, 14], [0.97, 19], [0.98, 10], [0.985, 13], [0.99, 17], [0.995, 8], [1.0, 12],
];

// ---------- Annotations (x / left-axis data coordinates) ----------
const labels = [
  { text: "AM/AM Without DPD", x: 0.555, y: 83.5, color: "#1414ff", align: "center" },
  { text: "AM/PM", x: 0.202, y: 64.5, color: "#1a1a1a", align: "left" },
  { text: "Without DPD", x: 0.202, y: 51.5, color: "#1a1a1a", align: "left" },
  { text: "AM/PM With DPD", x: 0.731, y: -46.5, color: "#2a8c2a", align: "center" },
  { text: "AM/AM With DPD", x: 0.398, y: -87.5, color: "#ff2020", align: "center" },
];
const arrows = [
  { from: [0.563, 72.2], to: [0.595, 46.7], color: "#1414ff" },
  { from: [0.337, 43.7], to: [0.391, 24.6], color: "#1a1a1a" },
  { from: [0.744, -35.9], to: [0.699, -10.3], color: "#2a8c2a" },
  { from: [0.369, -76.7], to: [0.342, -49.1], color: "#ff2020" },
];

const AXIS_COLOR = "#262626";
const FONT = "Arial, 'Liberation Sans', Helvetica, sans-serif";

const build = (ys1: number[], ys2: number[], more: [number, number][]) =>
  [
    ...inputMag.map((x, i) => ({ x, y: ys1[i] })),
    ...inputMag2.map((x, i) => ({ x, y: ys2[i] })),
    ...more.map(([x, y]) => ({ x, y })),
  ].filter((p) => Number.isFinite(p.y));

const decorPlugin = {
  id: "decor",
  afterDraw(chart: any) {
    const { ctx, chartArea } = chart;
    const xs = chart.scales.x;
    const ys = chart.scales.y;
    const y2 = chart.scales.y2;
    ctx.save();
    ctx.strokeStyle = AXIS_COLOR;
    ctx.lineWidth = 1;
    ctx.beginPath();
    ctx.moveTo(chartArea.left, chartArea.top + 0.5);
    ctx.lineTo(chartArea.right, chartArea.top + 0.5);
    const tl = 5;
    xTicks.forEach((v) => {
      const px = Math.round(xs.getPixelForValue(v)) + 0.5;
      ctx.moveTo(px, chartArea.bottom);
      ctx.lineTo(px, chartArea.bottom - tl);
      ctx.moveTo(px, chartArea.top);
      ctx.lineTo(px, chartArea.top + tl);
    });
    phaseTicks.forEach((v) => {
      const py = Math.round(ys.getPixelForValue(v)) + 0.5;
      ctx.moveTo(chartArea.left, py);
      ctx.lineTo(chartArea.left + tl, py);
    });
    magTicks.forEach((v) => {
      const py = Math.round(y2.getPixelForValue(v)) + 0.5;
      ctx.moveTo(chartArea.right, py);
      ctx.lineTo(chartArea.right - tl, py);
    });
    ctx.stroke();

    arrows.forEach((a) => {
      const x1 = xs.getPixelForValue(a.from[0]);
      const y1 = ys.getPixelForValue(a.from[1]);
      const x2 = xs.getPixelForValue(a.to[0]);
      const y2p = ys.getPixelForValue(a.to[1]);
      const ang = Math.atan2(y2p - y1, x2 - x1);
      const hl = 13;
      const hw = 5;
      const c = Math.cos(ang);
      const s = Math.sin(ang);
      ctx.strokeStyle = a.color;
      ctx.fillStyle = a.color;
      ctx.lineWidth = 1.6;
      ctx.beginPath();
      ctx.moveTo(x1, y1);
      ctx.lineTo(x2 - c * hl * 0.8, y2p - s * hl * 0.8);
      ctx.stroke();
      ctx.beginPath();
      ctx.moveTo(x2, y2p);
      ctx.lineTo(x2 - c * hl + s * hw, y2p - s * hl - c * hw);
      ctx.lineTo(x2 - c * hl * 0.75, y2p - s * hl * 0.75);
      ctx.lineTo(x2 - c * hl - s * hw, y2p - s * hl + c * hw);
      ctx.closePath();
      ctx.fill();
    });

    ctx.font = `20px ${FONT}`;
    ctx.textBaseline = "middle";
    labels.forEach((l) => {
      ctx.fillStyle = l.color;
      ctx.textAlign = l.align as CanvasTextAlign;
      ctx.fillText(l.text, xs.getPixelForValue(l.x), ys.getPixelForValue(l.y));
    });

    ctx.save();
    ctx.translate(606, (chartArea.top + chartArea.bottom) / 2);
    ctx.rotate(-Math.PI / 2);
    ctx.font = `24px ${FONT}`;
    ctx.fillStyle = AXIS_COLOR;
    ctx.textAlign = "center";
    ctx.textBaseline = "middle";
    ctx.fillText("Normalized Output Magnitude", 0, 0);
    ctx.restore();
    ctx.restore();
  },
};

export default function App() {
  const ref = useRef<HTMLCanvasElement | null>(null);
  useEffect(() => {
    if (!ref.current) return;
    const pr = 2.6;
    const chart = new Chart(ref.current, {
      type: "scatter",
      data: {
        datasets: [
          { label: "AM/AM With DPD", data: build(amamWithDpd, amamWithDpd2, amamWithDpdMore), yAxisID: "y2", backgroundColor: "#ff0000", pointRadius: 3.0, pointBorderWidth: 0 },
          { label: "AM/AM Without DPD", data: build(amamWithoutDpd, amamWithoutDpd2, amamWithoutDpdMore), yAxisID: "y2", backgroundColor: "#0000ff", pointRadius: 2.7, pointBorderWidth: 0 },
          { label: "AM/PM With DPD", data: build(ampmWithDpd, ampmWithDpd2, ampmWithDpdMore), yAxisID: "y", backgroundColor: "#108a10", pointRadius: pr, pointBorderWidth: 0 },
          { label: "AM/PM Without DPD", data: build(ampmWithoutDpd, ampmWithoutDpd2, ampmWithoutDpdMore), yAxisID: "y", backgroundColor: "#000000", pointRadius: pr, pointBorderWidth: 0 },
        ] as any,
      },
      options: {
        animation: false,
        responsive: false,
        events: [],
        layout: { padding: { top: 18, left: 0, right: 0, bottom: 0 } },
        plugins: { legend: { display: false }, tooltip: { enabled: false } },
        scales: {
          x: {
            type: "linear",
            min: 0,
            max: 1,
            afterBuildTicks: (s: any) => { s.ticks = xTicks.map((v) => ({ value: v })); },
            afterFit: (s: any) => { s.height = 79; },
            ticks: { callback: (_v: any, i: number) => xTickLabels[i], color: AXIS_COLOR, font: { family: FONT, size: 22 }, padding: 13, maxRotation: 0, autoSkip: false },
            grid: { color: "#e3e3e3", drawTicks: false },
            border: { color: AXIS_COLOR, width: 1 },
            title: { display: true, text: "Normalized Input Magnitude", color: AXIS_COLOR, font: { family: FONT, size: 24 }, padding: { top: 0, bottom: 3 } },
          },
          y: {
            type: "linear",
            position: "left",
            min: -100,
            max: 100,
            afterBuildTicks: (s: any) => { s.ticks = phaseTicks.map((v) => ({ value: v })); },
            afterFit: (s: any) => { s.width = 99; },
            ticks: { callback: (_v: any, i: number) => phaseTickLabels[i], color: AXIS_COLOR, font: { family: FONT, size: 22 }, padding: 8, autoSkip: false },
            grid: { color: "#e3e3e3", drawTicks: false },
            border: { color: AXIS_COLOR, width: 1 },
            title: { display: true, text: "Phase Difference (Deg)", color: AXIS_COLOR, font: { family: FONT, size: 24 }, padding: { top: 6, bottom: 0 } },
          },
          y2: {
            type: "linear",
            position: "right",
            min: 0,
            max: 1,
            afterBuildTicks: (s: any) => { s.ticks = magTicks.map((v) => ({ value: v })); },
            afterFit: (s: any) => { s.width = 79; },
            ticks: { callback: (_v: any, i: number) => magTickLabels[i], color: AXIS_COLOR, font: { family: FONT, size: 22 }, padding: 7, autoSkip: false },
            grid: { display: false, drawTicks: false },
            border: { color: AXIS_COLOR, width: 1 },
          },
        },
      } as any,
      plugins: [decorPlugin],
    });
    return () => chart.destroy();
  }, []);
  return (
    <div style={{ position: "absolute", left: 0, top: 0, width: 620, height: 505, background: "#fff" }}>
      <canvas ref={ref} width={620} height={505} />
    </div>
  );
}
